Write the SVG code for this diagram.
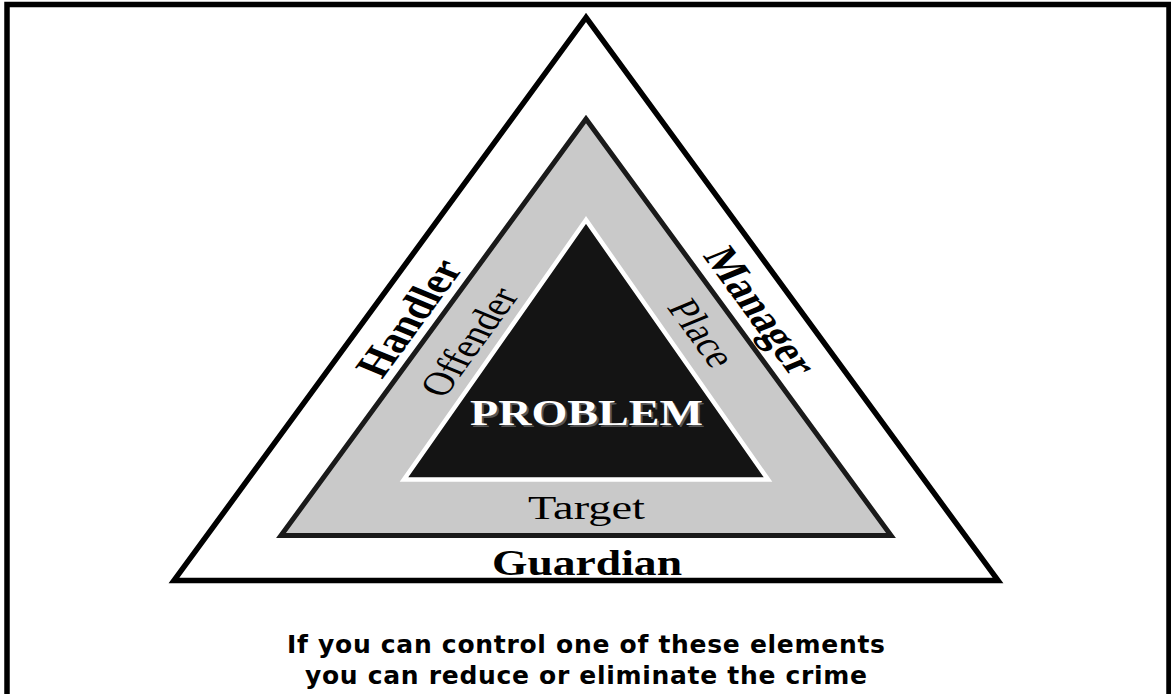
<svg xmlns="http://www.w3.org/2000/svg" width="1171" height="694" viewBox="0 0 1171 694">
<style>
.serif{font-family:"Liberation Serif","Times New Roman",serif;}
.b{font-weight:bold;}
.cap{font-family:"DejaVu Sans",Verdana,sans-serif;font-weight:bold;font-size:25px;fill:#000;}
</style>
<rect x="0" y="0" width="1171" height="694" fill="#ffffff"/>
<rect id="frame" x="7" y="4.5" width="1162" height="710" fill="none" stroke="#000" stroke-width="5.5"/>
<g id="outer-triangle">
<polygon points="586,17.5 174,580.5 998,580.5" fill="#ffffff" stroke="#000" stroke-width="5.5"/>
</g>
<g id="middle-triangle">
<polygon points="586,119 281,535.5 891,535.5" fill="#c9c9c9" stroke="#1a1a1a" stroke-width="5"/>
</g>
<g id="problem">
<polygon points="586,220 404,479.5 768,479.5" fill="#141414" stroke="#ffffff" stroke-width="4.5"/>
<text class="serif b" x="472" y="427" font-size="36" textLength="233" lengthAdjust="spacingAndGlyphs" fill="#555">PROBLEM</text>
<text class="serif b" x="470" y="425" font-size="36" textLength="233" lengthAdjust="spacingAndGlyphs" fill="#ffffff">PROBLEM</text>
</g>
<g id="handler">
<text class="serif b" transform="translate(409,318) scale(1.33,1) rotate(-61.2)" x="0" y="12" font-size="36" text-anchor="middle">Handler</text>
</g>
<g id="offender">
<text class="serif" transform="translate(469,342) scale(1.33,1) rotate(-61.2)" x="0" y="11" font-size="33" text-anchor="middle">Offender</text>
</g>
<g id="manager">
<text class="serif b" transform="translate(761,311) scale(1.33,1) rotate(61.2)" x="0" y="12" font-size="36" text-anchor="middle">Manager</text>
</g>
<g id="place">
<text class="serif" transform="translate(702,333) scale(1.33,1) rotate(61.2)" x="0" y="11" font-size="33" text-anchor="middle">Place</text>
</g>
<g id="target">
<text class="serif" x="528" y="519" font-size="33" textLength="117" lengthAdjust="spacingAndGlyphs">Target</text>
</g>
<g id="guardian">
<text class="serif b" x="492" y="575" font-size="35" textLength="190" lengthAdjust="spacingAndGlyphs">Guardian</text>
</g>
<g id="caption">
<text class="cap" x="287" y="653" textLength="598">If you can control one of these elements</text>
<text class="cap" x="305" y="684" textLength="562">you can reduce or eliminate the crime</text>
</g>
<g id="connectors"></g>
</svg>
